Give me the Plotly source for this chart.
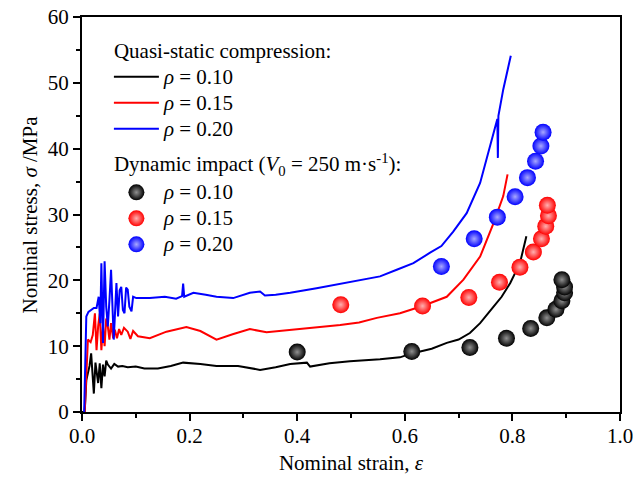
import plotly.graph_objects as go

# Quasi-static compression curves (strain, stress in MPa)
qs10_x = [0.0, 0.005, 0.008, 0.011, 0.014, 0.017, 0.020, 0.022, 0.025, 0.027, 0.030, 0.033, 0.036, 0.039,
          0.042, 0.045, 0.048, 0.054, 0.060, 0.067, 0.075, 0.085, 0.10, 0.116, 0.141, 0.165, 0.188, 0.22,
          0.25, 0.29, 0.331, 0.36, 0.387, 0.418, 0.424, 0.46, 0.498, 0.554, 0.591, 0.613,
          0.65, 0.678, 0.70, 0.721, 0.740, 0.765, 0.780, 0.796, 0.814, 0.826]
qs10_y = [0.0, 0.0, 4.8, 5.9, 7.0, 8.9, 4.5, 2.8, 7.5, 6.4, 4.4, 7.4, 3.6, 7.2,
          5.4, 7.8, 7.2, 6.6, 7.3, 6.9, 7.0, 6.8, 6.9, 6.6, 6.6, 7.0, 7.5, 7.3,
          7.0, 7.0, 6.4, 6.8, 7.3, 7.5, 6.9, 7.4, 7.7, 8.0, 8.3, 8.9,
          9.6, 10.5, 11.0, 12.0, 13.5, 16.0, 17.5, 19.6, 22.6, 26.7]

qs15_x = [0.005, 0.008, 0.011, 0.016, 0.020, 0.024, 0.027, 0.030, 0.033, 0.036, 0.039, 0.042, 0.045,
          0.048, 0.051, 0.054, 0.058, 0.061, 0.065, 0.069, 0.073, 0.078, 0.085, 0.090, 0.095, 0.104,
          0.126, 0.157, 0.175, 0.194, 0.22, 0.25, 0.28, 0.312, 0.343, 0.37, 0.405, 0.44, 0.480, 0.515,
          0.548, 0.591, 0.633, 0.678, 0.709, 0.740, 0.765, 0.783, 0.791]
qs15_y = [0.0, 7.0, 11.0, 10.6, 11.7, 15.0, 9.4, 13.0, 15.0, 9.4, 13.0, 10.0, 14.2,
          13.0, 11.0, 13.5, 11.2, 12.5, 11.2, 12.6, 11.7, 12.8, 12.2, 11.1, 12.3, 11.5,
          11.2, 12.2, 12.5, 12.9, 12.3, 11.0, 11.8, 12.6, 12.1, 12.3, 12.6, 12.9, 13.2, 13.6,
          14.3, 15.0, 16.1, 17.5, 20.1, 23.6, 28.7, 32.8, 36.1]

qs20_x = [0.004, 0.006, 0.008, 0.012, 0.017, 0.022, 0.027, 0.031, 0.034, 0.036, 0.039, 0.042, 0.045, 0.048,
          0.051, 0.054, 0.059, 0.064, 0.067, 0.070, 0.073, 0.076, 0.079, 0.082, 0.085, 0.088, 0.092,
          0.095, 0.101, 0.126, 0.154, 0.175, 0.186, 0.188, 0.190, 0.207, 0.23, 0.25, 0.281,
          0.312, 0.331, 0.340, 0.36, 0.387, 0.436, 0.498, 0.554, 0.585, 0.616, 0.647, 0.668, 0.690,
          0.715, 0.740, 0.752, 0.765, 0.772, 0.773, 0.774, 0.783, 0.792, 0.797]
qs20_y = [0.0, 10.0, 14.5, 15.2, 15.5, 15.8, 15.8, 17.5, 13.5, 22.6, 10.5, 22.9, 16.0, 13.0,
          17.0, 21.6, 11.0, 19.6, 14.5, 18.5, 19.0, 15.5, 15.0, 18.9, 18.6, 16.0, 15.3,
          17.5, 17.3, 17.3, 17.5, 17.2, 17.6, 19.5, 17.5, 18.1, 17.8, 17.5, 17.3,
          18.1, 18.3, 17.7, 17.8, 18.1, 18.8, 19.8, 20.6, 21.6, 22.6, 24.2, 25.2, 27.4,
          30.2, 34.8, 38.4, 42.4, 44.5, 38.6, 45.0, 49.0, 52.0, 54.1]

# Dynamic impact points
dy10_x = [0.400, 0.613, 0.721, 0.789, 0.834, 0.864, 0.881, 0.892, 0.897, 0.897, 0.892]
dy10_y = [9.1, 9.2, 9.8, 11.2, 12.7, 14.3, 15.6, 16.9, 18.1, 19.0, 20.1]
dy15_x = [0.481, 0.633, 0.719, 0.776, 0.814, 0.839, 0.854, 0.862, 0.867, 0.865]
dy15_y = [16.3, 16.1, 17.4, 19.7, 22.0, 24.3, 26.3, 28.2, 29.8, 31.4]
dy20_x = [0.668, 0.729, 0.772, 0.805, 0.828, 0.843, 0.853, 0.857]
dy20_y = [22.1, 26.3, 29.6, 32.7, 35.6, 38.1, 40.4, 42.5]

labels = ["<i>ρ</i> = 0.10", "<i>ρ</i> = 0.15", "<i>ρ</i> = 0.20"]
colors = ["#000000", "#ff0000", "#0000ff"]
glow = ["#909090", "#ffb0b0", "#a8a8ff"]

font = "Liberation Serif"
FS = 21          # visible text size
LEG_FS = 17.7    # legend row metric size (controls row spacing)


def big(t):
    return '<span style="font-size:%dpx">%s</span>' % (FS, t)


fig = go.Figure()

qs = [(qs10_x, qs10_y), (qs15_x, qs15_y), (qs20_x, qs20_y)]
for i, (xs, ys) in enumerate(qs):
    kw = {}
    if i == 0:
        kw["legendgrouptitle"] = dict(text=big("Quasi-static compression:"),
                                      font=dict(size=LEG_FS, family=font, color="black"))
    fig.add_trace(go.Scatter(
        x=xs, y=ys, mode="lines", name=big(labels[i]),
        line=dict(color=colors[i], width=2),
        legendgroup="qs", **kw,
    ))

dy = [(dy10_x, dy10_y), (dy15_x, dy15_y), (dy20_x, dy20_y)]
for i, (xs, ys) in enumerate(dy):
    kw = {}
    if i == 0:
        kw["legendgrouptitle"] = dict(
            text=big("Dynamic impact (<i>V</i><sub>0</sub> = 250 m·s<sup>-1</sup>):"),
            font=dict(size=25, family=font, color="black"))
    fig.add_trace(go.Scatter(
        x=xs, y=ys, mode="markers", name=big(labels[i]),
        marker=dict(color=colors[i], size=17, line=dict(width=0),
                    gradient=dict(type="radial", color=glow[i])),
        legendgroup="dy", **kw,
    ))

axis_common = dict(
    showline=True, linecolor="black", linewidth=2, mirror=True,
    ticks="outside", ticklen=7, tickwidth=2, tickcolor="black",
    showgrid=False, zeroline=False, automargin=False,
    ticklabeloverflow="allow",
    tickfont=dict(size=FS, family=font, color="black"),
)

fig.update_layout(
    width=633, height=484,
    margin=dict(l=82, r=13, t=17, b=72),
    paper_bgcolor="white", plot_bgcolor="white",
    font=dict(family=font, size=FS, color="black"),
    showlegend=True,
    legend=dict(x=0.050, y=0.960, xanchor="left", yanchor="top",
                bgcolor="rgba(0,0,0,0)", tracegroupgap=2, itemwidth=45,
                font=dict(size=LEG_FS, family=font, color="black"),
                itemsizing="trace"),
    xaxis=dict(range=[0, 1.0], dtick=0.2, tickformat=".1f", ticklabelstandoff=-3,
               minor=dict(dtick=0.1, ticks="outside", ticklen=4, tickwidth=2, tickcolor="black"),
               title=dict(text="Nominal strain, <i>ε</i>", font=dict(size=FS, family=font), standoff=8),
               **axis_common),
    yaxis=dict(range=[0, 60], dtick=10,
               minor=dict(dtick=5, ticks="outside", ticklen=4, tickwidth=2, tickcolor="black"),
               **axis_common),
    annotations=[dict(text="Nominal stress, <i>σ</i> /MPa", xref="paper", yref="paper",
                      x=-0.0967, y=0.5, xanchor="center", yanchor="middle", textangle=-90,
                      showarrow=False, font=dict(size=FS, family=font, color="black"))],
)

fig.write_html("out.html", config={"displayModeBar": False},
               post_script="document.body.style.margin='0';")
